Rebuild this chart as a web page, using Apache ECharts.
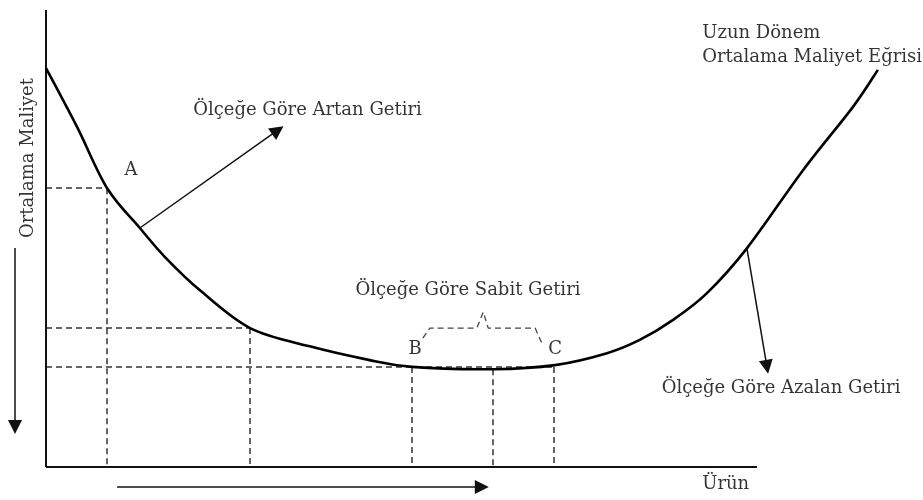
<!DOCTYPE html>
<html>
<head>
<meta charset="utf-8">
<script src="https://cdn.jsdelivr.net/npm/echarts@6/dist/echarts.min.js"></script>
<style>
  html, body { margin: 0; padding: 0; background: #fff; }
  #chart { width: 923px; height: 500px; }
</style>
</head>
<body>
<div id="chart"></div>
<script>
// Long-run average cost curve (output on x, cost on y)
const curveOutput = [0, 4.4, 8.6, 13.2, 16.7, 21.7, 28.7, 37.1, 45.2, 51.5, 62.9, 71.6, 78.9, 83.5, 88.2, 93.0, 98.6, 106.5, 113.5, 117.0];
const curveCost   = [87.3, 74.3, 61.0, 52.3, 46.0, 38.6, 30.4, 26.4, 23.5, 21.9, 21.4, 22.3, 24.9, 27.8, 32.2, 38.1, 47.9, 65.0, 78.8, 86.9];

// Axes of the diagram (drawn lines): output axis to 100, cost axis to 100
const axisOutputEnd = 100;
const axisCostEnd   = 100;

// Dashed guide lines: points on the curve
const guideOutput = [8.6, 28.7, 51.5, 62.9, 71.4];
const guideCost   = [61.0, 30.4, 21.9, 21.4, 21.9];
// horizontal guides: cost level and right end output
const hGuideCost  = [61.0, 30.4, 21.9];
const hGuideEnd   = [8.6, 28.7, 71.4];

// Brace over B..C (dashed)
const braceOutput = [53.0, 54.0, 60.6, 61.5, 62.2, 68.8, 69.9];
const braceCost   = [28.2, 30.4, 30.4, 33.9, 30.4, 30.4, 26.5];

// Arrows: [x1, y1, x2, y2]
const arrowArtan   = [13.2, 52.3, 32.6, 73.7];
const arrowAzalan  = [98.6, 47.7, 101.4, 21.9];
const arrowCostDir = [-4.36, 47.9, -4.36, 8.75];
const arrowOutDir  = [10.0, -4.4, 61.3, -4.4];

// Text annotations
const labelTexts = ['Ölçeğe Göre Artan Getiri', 'A', 'Ölçeğe Göre Sabit Getiri', 'B', 'C', 'Uzun Dönem', 'Ortalama Maliyet Eğrisi', 'Ölçeğe Göre Azalan Getiri', 'Ürün', 'Ortalama Maliyet'];
const labelX     = [20.7, 11.95, 59.35, 51.9, 71.6, 92.3, 92.3, 86.6, 92.3, -2.53];
const labelY     = [78.1, 65.0, 38.7, 25.8, 25.8, 95.0, 89.7, 17.3, -3.7, 67.6];
const labelAlign = ['left', 'center', 'center', 'center', 'center', 'left', 'left', 'left', 'left', 'center'];
const labelRot   = [0, 0, 0, 0, 0, 0, 0, 0, 0, 90];

const FONT = 'DejaVu Serif';
const chart = echarts.init(document.getElementById('chart'), null, { renderer: 'canvas' });

const dashedSegs = [];
hGuideCost.forEach((c, i) => dashedSegs.push({ coords: [[0, c], [hGuideEnd[i], c]] }));
guideOutput.forEach((x, i) => dashedSegs.push({ coords: [[x, guideCost[i]], [x, 0]] }));

const arrowSeg = a => ({ coords: [[a[0], a[1]], [a[2], a[3]]] });

const curveData = curveOutput.map((x, i) => [x, curveCost[i]]);
const braceData = braceOutput.map((x, i) => [x, braceCost[i]]);

const labelData = labelTexts.map((t, i) => ({
  value: [labelX[i], labelY[i]],
  label: {
    show: true,
    formatter: t,
    position: 'inside',
    align: labelAlign[i],
    verticalAlign: 'middle',
    rotate: labelRot[i],
    color: '#000',
    fontFamily: FONT,
    fontSize: 18
  }
}));

// Smooth curve through the read points (Catmull-Rom through the axis-mapped pixels)
function renderCurve(params, api) {
  if (params.dataIndex !== 0) return null;
  const pts = curveData.map(d => api.coord(d));
  const n = pts.length;
  let d = 'M' + pts[0][0] + ' ' + pts[0][1];
  for (let i = 0; i < n - 1; i++) {
    const p0 = pts[Math.max(i - 1, 0)], p1 = pts[i], p2 = pts[i + 1], p3 = pts[Math.min(i + 2, n - 1)];
    const c1x = p1[0] + (p2[0] - p0[0]) / 6, c1y = p1[1] + (p2[1] - p0[1]) / 6;
    const c2x = p2[0] - (p3[0] - p1[0]) / 6, c2y = p2[1] - (p3[1] - p1[1]) / 6;
    d += ' C' + c1x + ' ' + c1y + ' ' + c2x + ' ' + c2y + ' ' + p2[0] + ' ' + p2[1];
  }
  return {
    type: 'path',
    shape: { pathData: d },
    style: { stroke: '#000', lineWidth: 2.6, fill: null }
  };
}

// plot area: 0..100 output spans x 46..757 px, 0..100 cost spans y 467..10 px
const PX_X = 7.11, PX_Y = 4.57;
chart.setOption({
  animation: false,
  backgroundColor: '#fff',
  grid: { left: 0, top: 0, right: 0, bottom: 0, containLabel: false },
  xAxis: {
    type: 'value', min: -46 / PX_X, max: 100 + 166 / PX_X,
    axisLine: { show: false }, axisTick: { show: false }, axisLabel: { show: false }, splitLine: { show: false }
  },
  yAxis: {
    type: 'value', min: -33 / PX_Y, max: 100 + 10 / PX_Y,
    axisLine: { show: false }, axisTick: { show: false }, axisLabel: { show: false }, splitLine: { show: false }
  },
  series: [
    {
      type: 'lines', coordinateSystem: 'cartesian2d',
      data: [ { coords: [[0, 0], [axisOutputEnd, 0]] }, { coords: [[0, 0], [0, axisCostEnd]] } ],
      symbol: 'none',
      lineStyle: { color: '#111', width: 2, opacity: 1 },
      z: 3
    },
    {
      type: 'lines', coordinateSystem: 'cartesian2d',
      data: dashedSegs,
      symbol: 'none',
      lineStyle: { color: '#333', width: 1.5, type: [6, 4], opacity: 1 },
      z: 2
    },
    {
      type: 'line', data: braceData, symbol: 'none',
      lineStyle: { color: '#444', width: 1.3, type: [6, 4] },
      z: 2
    },
    {
      type: 'custom', coordinateSystem: 'cartesian2d',
      data: curveData,
      renderItem: renderCurve,
      silent: true,
      z: 3
    },
    {
      type: 'lines', coordinateSystem: 'cartesian2d',
      data: [arrowSeg(arrowArtan), arrowSeg(arrowAzalan), arrowSeg(arrowCostDir), arrowSeg(arrowOutDir)],
      symbol: ['none', 'triangle'],
      symbolSize: [0, 14],
      lineStyle: { color: '#111', width: 1.5, opacity: 1 },
      itemStyle: { color: '#000' },
      z: 4
    },
    {
      type: 'scatter', data: labelData,
      symbolSize: 0, silent: true,
      z: 5
    }
  ]
});
</script>
</body>
</html>
